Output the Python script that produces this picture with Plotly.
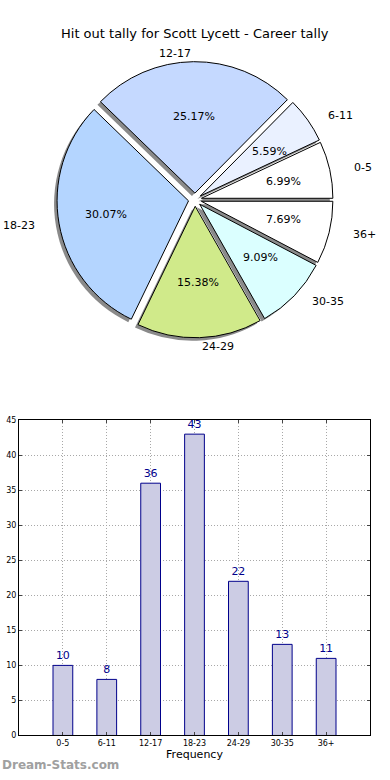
import math
import plotly.graph_objects as go

categories = ["0-5", "6-11", "12-17", "18-23", "24-29", "30-35", "36+"]
counts = [10, 8, 36, 43, 22, 13, 11]
pie_colors = ["#ffffff", "#eaf1ff", "#c5d9ff", "#b4d5ff", "#d0ea8a", "#dbffff", "#ffffff"]
y_ticks = [0, 5, 10, 15, 20, 25, 30, 35, 40, 45]

W, H = 390, 780
font = "DejaVu Sans"

# pie geometry (pixels from top-left)
cx, cy = 195, 198
r = 133
explode = 0.05
half = r * (1 + explode)

def px_x(x):
    return x / W

def px_y(y):
    return 1 - y / H

fig = go.Figure()

# matplotlib draws counterclockwise from 3 o'clock; plotly clockwise with reversed order gives same layout
rev_labels = categories[::-1]
rev_counts = counts[::-1]
rev_colors = pie_colors[::-1]
pull = [explode] * len(categories)

dom = dict(x=[px_x(cx - half), px_x(cx + half)], y=[px_y(cy + half), px_y(cy - half)])
shadow_dom = dict(x=[px_x(cx - half - 3), px_x(cx + half - 3)], y=[px_y(cy + half + 3), px_y(cy - half + 3)])

fig.add_trace(go.Pie(
    labels=rev_labels, values=rev_counts, sort=False, direction="clockwise",
    rotation=90, pull=pull, marker=dict(colors=["#8a8a8a"] * 7, line=dict(width=0)),
    textinfo="none", hoverinfo="skip", showlegend=False, domain=shadow_dom,
))
fig.add_trace(go.Pie(
    labels=rev_labels, values=rev_counts, sort=False, direction="clockwise",
    rotation=90, pull=pull,
    marker=dict(colors=rev_colors, line=dict(color="#000000", width=1)),
    textinfo="none", showlegend=False, domain=dom,
))

# labels and percentages, positioned like matplotlib (labeldistance 1.1, pctdistance 0.6)
annotations = []
total = sum(counts)
rx_lab, ry_lab = 139.5, 129
cum = 0
for lab, v in zip(categories, counts):
    mid = 2 * math.pi * (cum + v / 2) / total
    cum += v
    c, s = math.cos(mid), math.sin(mid)
    ex, ey = explode * c, explode * s
    lx = cx + rx_lab * (1.1 * c + ex)
    ly = cy - ry_lab * (1.1 * s + ey)
    annotations.append(dict(text=lab, x=px_x(lx), y=px_y(ly), xref="paper", yref="paper",
                            xanchor="left" if c > 0 else "right", yanchor="middle",
                            showarrow=False, font=dict(size=11, family=font, color="#000000")))
    qx = cx + rx_lab * (0.6 * c + ex)
    qy = cy - ry_lab * (0.6 * s + ey)
    annotations.append(dict(text=f"{100 * v / total:.2f}%", x=px_x(qx), y=px_y(qy),
                            xref="paper", yref="paper", xanchor="center", yanchor="middle",
                            showarrow=False, font=dict(size=11, family=font, color="#000000")))

annotations.append(dict(text="<b>Dream-Stats.com</b>", x=0, y=px_y(770), xref="paper", yref="paper",
                        xanchor="left", yanchor="middle", showarrow=False,
                        font=dict(size=12, color="#a0a0a0", family=font)))
annotations.append(dict(text="Hit out tally for Scott Lycett - Career tally", x=0.5, y=px_y(30),
                        xref="paper", yref="paper", xanchor="center", yanchor="middle",
                        showarrow=False, font=dict(size=13, family=font, color="#000000")))

fig.add_trace(go.Bar(
    x=categories, y=counts, width=0.45,
    marker=dict(color="#ccccE4", line=dict(color="#00008b", width=1)),
    text=[str(c) for c in counts], textposition="outside",
    textfont=dict(family=font, size=11, color="#00008b"),
    cliponaxis=False, showlegend=False, xaxis="x", yaxis="y",
))

grid = dict(showgrid=True, gridcolor="#a8a8a8", griddash="1px,2px", gridwidth=1,
            showline=True, linecolor="#000000", linewidth=1, mirror="ticks",
            ticks="inside", ticklen=3, tickfont=dict(size=8, family=font),
            zeroline=False, fixedrange=True)

fig.update_layout(
    width=W, height=H, margin=dict(l=0, r=0, t=0, b=0),
    paper_bgcolor="white", plot_bgcolor="white",
    font=dict(family=font, color="#000000"),
    xaxis=dict(domain=[19 / W, 370 / W], range=[-1, 7], tickmode="array",
               tickvals=list(range(len(categories))), ticktext=categories,
               title=dict(text="Frequency", font=dict(size=11, family=font), standoff=0),
               **grid),
    yaxis=dict(domain=[1 - 740 / H, 1 - 421 / H], range=[0, 45], tickvals=y_ticks, **grid),
    annotations=annotations,
)

fig.write_html("out.html", config={"responsive": False, "displayModeBar": False},
               post_script="document.body.style.margin='0';document.body.style.padding='0';")
